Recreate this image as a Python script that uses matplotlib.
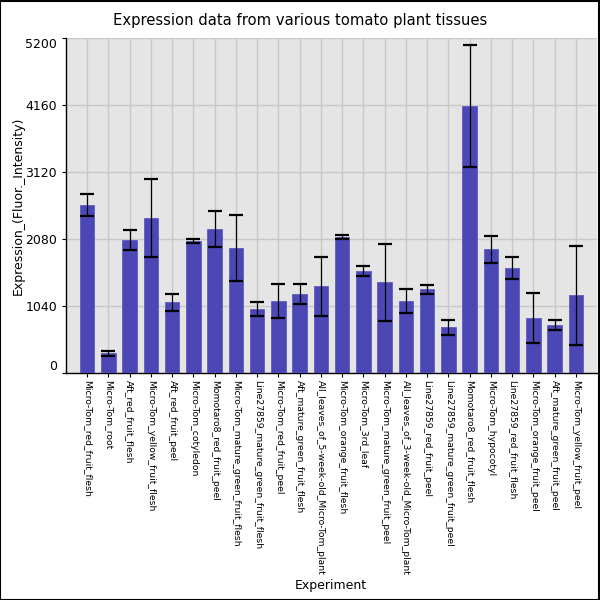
import matplotlib
matplotlib.use("Agg")
import matplotlib.pyplot as plt
import matplotlib.transforms as mtransforms
import numpy as np

experiments = [
    "Micro-Tom_red_fruit_flesh", "Micro-Tom_root", "Aft_red_fruit_flesh",
    "Micro-Tom_yellow_fruit_flesh", "Aft_red_fruit_peel", "Micro-Tom_cotyledon",
    "Momotaro8_red_fruit_peel", "Micro-Tom_mature_green_fruit_flesh",
    "Line27859_mature_green_fruit_flesh", "Micro-Tom_red_fruit_peel",
    "Aft_mature_green_fruit_flesh", "All_leaves_of_5-week-old_Micro-Tom_plant",
    "Micro-Tom_orange_fruit_flesh", "Micro-Tom_3rd_leaf",
    "Micro-Tom_mature_green_fruit_peel", "All_leaves_of_3-week-old_Micro-Tom_plant",
    "Line27859_red_fruit_peel", "Line27859_mature_green_fruit_peel",
    "Momotaro8_red_fruit_flesh", "Micro-Tom_hypocotyl", "Line27859_red_fruit_flesh",
    "Micro-Tom_orange_fruit_peel", "Aft_mature_green_fruit_peel",
    "Micro-Tom_yellow_fruit_peel",
]
values = [2612, 311, 2067, 2409, 1104, 2052, 2238, 1943, 995, 1119, 1228, 1352,
          2114, 1586, 1415, 1119, 1306, 715, 4150, 1928, 1632, 855, 746, 1212]
errors = [165, 40, 155, 610, 133, 30, 280, 510, 106, 266, 155, 458,
          31, 75, 598, 184, 70, 114, 940, 210, 174, 391, 75, 770]
yticks = [0, 1040, 2080, 3120, 4160, 5200]

fig = plt.figure(figsize=(6, 6), dpi=100)
fig.patch.set_facecolor("white")
ax = fig.add_axes([0.11, 0.378, 0.885, 0.558])
ax.set_facecolor("#E5E5E5")

x = np.arange(len(experiments))
ax.bar(x, values, width=0.68, color="#4B47B5", edgecolor="#5F5BC0",
       linewidth=0.6, zorder=3)
ax.errorbar(x, values, yerr=errors, fmt="none", ecolor="black", elinewidth=0.9,
            capsize=5, capthick=1.6, zorder=4)

ax.set_xlim(-1, len(experiments))
ax.set_ylim(0, 5200)
ax.set_yticks(yticks)
ax.set_yticklabels([str(t) for t in yticks], fontsize=9)
labs = ax.get_yticklabels()
labs[0].set_va("bottom")
labs[-1].set_va("top")
labs[-1].set_transform(labs[-1].get_transform() +
                       mtransforms.ScaledTranslation(0, -3 / 72, fig.dpi_scale_trans))
ax.set_xticks(x)
ax.set_xticklabels(experiments, rotation=270, fontsize=6.7, va="top", ha="center")
ax.tick_params(axis="x", length=3, pad=2)
ax.tick_params(axis="y", length=3)
ax.grid(True, color="#C8C8C8", linewidth=1, zorder=0)
ax.set_axisbelow(True)
for s in ["top", "right"]:
    ax.spines[s].set_visible(False)
for s in ["left", "bottom"]:
    ax.spines[s].set_color("black")
    ax.spines[s].set_linewidth(1)

ax.set_ylabel("Expression_(Fluor._Intensity)", fontsize=9, labelpad=0)
fig.text(0.552, 0.013, "Experiment", fontsize=9, ha="center", va="bottom")
fig.text(0.5, 0.966, "Expression data from various tomato plant tissues",
         fontsize=10.6, ha="center", va="center")

fig.add_artist(plt.Rectangle((0.0, 0.0), 0.998, 0.998, transform=fig.transFigure,
                             fill=False, edgecolor="black", linewidth=1.5))
fig.savefig("out.png", dpi=100)
